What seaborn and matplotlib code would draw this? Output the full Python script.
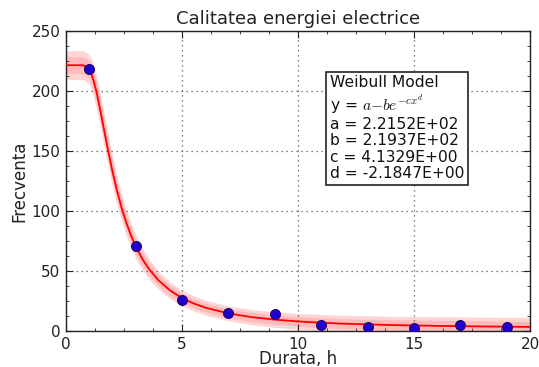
import matplotlib
matplotlib.use("Agg")
import matplotlib.pyplot as plt
from matplotlib.ticker import AutoMinorLocator, MultipleLocator
import numpy as np
import pandas as pd
import seaborn as sns

# ---- data ----
obs_x = [1, 3, 5, 7, 9, 11, 13, 15, 17, 19]
obs_y = [218, 71, 26, 15, 14, 5, 3.5, 2.5, 5, 3.5]

fit_x = [0, 0.5, 0.75, 1.0, 1.1, 1.2, 1.3, 1.4, 1.5, 1.6, 1.8, 2.0, 2.2, 2.4,
         2.6, 2.8, 3.0, 3.3, 3.6, 4.0, 4.5, 5.0, 5.5, 6, 7, 8, 9, 10, 11, 12,
         14, 16, 18, 20]
fit_y = [221.5, 221.5, 221.4, 218.0, 213.9, 207.8, 200.2, 191.3, 181.6, 171.6,
         151.7, 133.2, 116.7, 102.4, 90.1, 79.7, 70.7, 59.7, 51.0, 41.9, 33.6,
         27.5, 23.0, 19.5, 14.7, 11.6, 9.5, 8.0, 6.9, 6.1, 5.0, 4.3, 3.8, 3.45]
band_outer = [12, 12, 12, 12.5, 13, 13.5, 14, 14, 14, 14, 13.5, 13, 12, 11.5,
              11, 10.5, 10, 9, 8.5, 7.5, 7, 6.5, 6.3, 6.2, 6.2, 6.3, 6.5, 6.6,
              6.8, 7.0, 7.3, 7.6, 7.8, 8.0]
band_inner = [7, 7, 7, 7.5, 8, 8, 8.5, 8.5, 8.5, 8.5, 8, 8, 7, 7, 6.5, 6.3, 6,
              5.5, 5, 4.5, 4.2, 4, 3.8, 3.7, 3.7, 3.8, 3.9, 4.0, 4.1, 4.2,
              4.4, 4.6, 4.7, 4.8]

title = "Calitatea energiei electrice"
xlabel = "Durata, h"
ylabel = "Frecventa"
box_lines = ["Weibull Model",
             "y = $a{-}be^{-cx^{d}}$",
             "a = 2.2152E+02",
             "b = 2.1937E+02",
             "c = 4.1329E+00",
             "d = -2.1847E+00"]

sns.set_style("ticks")
plt.rcParams["font.family"] = ["DejaVu Sans"]
plt.rcParams["mathtext.fontset"] = "cm"

fit = pd.DataFrame({"x": fit_x, "y": fit_y,
                    "wo": band_outer, "wi": band_inner})
obs = pd.DataFrame({"x": obs_x, "y": obs_y})

fig = plt.figure(figsize=(5.39, 3.67), dpi=100, facecolor="white")
ax = fig.add_axes([0.1225, 0.098, 0.861, 0.8175])

ax.fill_between(fit["x"], fit["y"] - fit["wo"], fit["y"] + fit["wo"],
                color="#ff0000", alpha=0.17, linewidth=0)
ax.fill_between(fit["x"], fit["y"] - fit["wi"], fit["y"] + fit["wi"],
                color="#ff0000", alpha=0.12, linewidth=0)
sns.lineplot(data=fit, x="x", y="y", ax=ax, color="red", linewidth=1.3,
             zorder=3)
sns.scatterplot(data=obs, x="x", y="y", ax=ax, color="#2200d0",
                edgecolor="#1a0070", linewidth=0.8, s=50, zorder=4)

ax.set_xlim(0, 20)
ax.set_ylim(0, 250)
ax.xaxis.set_major_locator(MultipleLocator(5))
ax.yaxis.set_major_locator(MultipleLocator(50))
ax.xaxis.set_minor_locator(AutoMinorLocator(4))
ax.yaxis.set_minor_locator(AutoMinorLocator(4))
ax.tick_params(which="both", direction="in", top=True, right=True,
               labelsize=11, colors="#222222", labelcolor="#222222")
ax.tick_params(which="major", length=5, width=0.8, pad=4)
ax.tick_params(which="minor", length=2.5, width=0.6)
ax.grid(True, which="major", linestyle=(0, (1, 3)), color="#555555",
        linewidth=0.9)
for sp in ax.spines.values():
    sp.set_visible(True)
    sp.set_color("#222222")
    sp.set_linewidth(1.0)

ax.set_title(title, fontsize=13, color="#222222", pad=5)
ax.set_xlabel(xlabel, fontsize=12, color="#222222", labelpad=-1)
ax.set_ylabel(ylabel, fontsize=12, color="#222222", labelpad=2)

ax.text(0.568, 0.852, "\n".join(box_lines), transform=ax.transAxes,
        fontsize=11.2, va="top", ha="left", linespacing=1.1,
        color="#111111", zorder=6,
        bbox=dict(boxstyle="square,pad=0.25", facecolor="white",
                  edgecolor="#222222", linewidth=1.2))

fig.savefig("out.png", dpi=100, facecolor="white")
